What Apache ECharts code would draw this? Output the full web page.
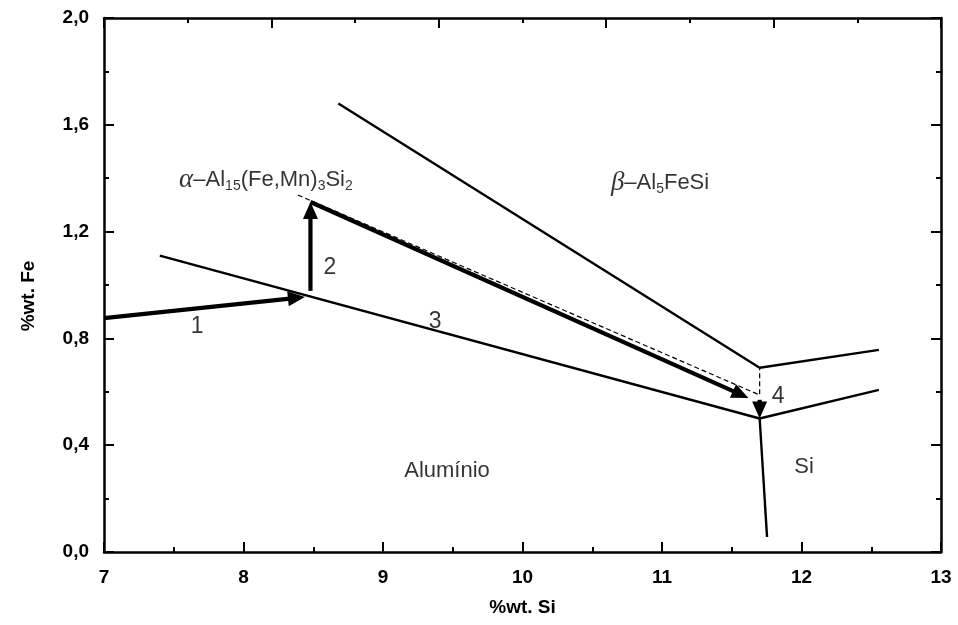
<!DOCTYPE html>
<html>
<head>
<meta charset="utf-8">
<title>Diagrama Al-Si-Fe</title>
<script src="https://cdn.jsdelivr.net/npm/echarts@6/dist/echarts.min.js"></script>
<style>
  html, body { margin: 0; padding: 0; background: #fff; }
  #chart { width: 958px; height: 625px; }
</style>
</head>
<body>
<div id="chart"></div>
<script>
// Tick values and their printed labels (comma decimal)
const xTickValues = [7, 8, 9, 10, 11, 12, 13];
const xTickLabels = ['7', '8', '9', '10', '11', '12', '13'];
const yTickValues = [0, 0.4, 0.8, 1.2, 1.6, 2.0];
const yTickLabels = ['0,0', '0,4', '0,8', '1,2', '1,6', '2,0'];

// Phase boundaries  [%Si, %Fe]
const alphaLowerBoundary = [[7.40, 1.11], [11.70, 0.50]];
const betaBoundary = [[8.68, 1.68], [11.70, 0.69]];
const betaSiBoundary = [[11.70, 0.69], [12.555, 0.757]];
const alphaSiBoundary = [[11.70, 0.50], [12.555, 0.607]];
const aluminiumSiBoundary = [[11.70, 0.50], [11.753, 0.056]];
const dashedPath = [[8.39, 1.337], [11.70, 0.588], [11.70, 0.69]];

// Solidification path arrows  [x0, y0, x1, y1]
const pathArrows = [
  [7.00, 0.876, 8.44, 0.955],
  [8.48, 0.978, 8.48, 1.311],
  [8.48, 1.311, 11.62, 0.577],
  [11.70, 0.570, 11.70, 0.500]
];

// Text labels placed in data space
const stepLabels = ['1', '2', '3', '4'];
const stepLabelPos = [[7.667, 0.843], [8.620, 1.064], [9.373, 0.861], [11.832, 0.581]];
const regionLabels = [
  '{g|\u03B1}{m|\u2013Al}{s|15}{m|(Fe,Mn)}{s|3}{m|Si}{s|2}',
  '{g|\u03B2}{m|\u2013Al}{s|5}{m|FeSi}',
  '{m|Alum\u00EDnio}',
  '{m|Si}'
];
const regionLabelPos = [[8.161, 1.393], [10.986, 1.382], [9.459, 0.303], [12.018, 0.318]];

const FONT = 'Liberation Sans';
const richStyles = {
  m: { fontFamily: FONT, fontSize: 22, lineHeight: 26, color: '#000' },
  s: { fontFamily: FONT, fontSize: 14, lineHeight: 14, color: '#000', verticalAlign: 'bottom' },
  g: { fontFamily: 'Liberation Serif', fontStyle: 'italic', fontSize: 27, lineHeight: 26, color: '#000' }
};

const chart = echarts.init(document.getElementById('chart'), null, { renderer: 'canvas' });

function boundarySeries(points, dashed) {
  return {
    type: 'line',
    data: points,
    showSymbol: false,
    symbol: 'none',
    silent: true,
    animation: false,
    lineStyle: dashed
      ? { color: '#000', width: 1.2, type: [5, 3] }
      : { color: '#000', width: 2.4 },
    z: 3
  };
}

const axisCommon = {
  axisLine: { show: true, onZero: false, lineStyle: { color: '#000', width: 2.5 } },
  axisTick: { show: true, inside: true, length: 10, lineStyle: { color: '#000', width: 2 } },
  minorTick: { show: true, splitNumber: 2, length: 5, lineStyle: { color: '#000', width: 2 } },
  splitLine: { show: false },
  minorSplitLine: { show: false }
};

const tickFont = { fontFamily: FONT, fontSize: 19, fontWeight: 'bold', color: '#000' };
const nameFont = { fontFamily: FONT, fontSize: 19, fontWeight: 'bold', color: '#000' };

const option = {
  backgroundColor: '#fff',
  animation: false,
  grid: { left: 104, right: 17, top: 18, bottom: 73, containLabel: false, outerBoundsMode: 'none' },
  xAxis: [
    Object.assign({}, axisCommon, {
      type: 'value', position: 'bottom', min: 7, max: 13, interval: 1,
      name: '%wt. Si', nameLocation: 'middle', nameGap: 46,
      nameTextStyle: nameFont,
      axisLabel: Object.assign({ margin: 16 }, tickFont, {
        formatter: v => { const i = xTickValues.indexOf(Math.round(v)); return i >= 0 ? xTickLabels[i] : ''; }
      })
    }),
    Object.assign({}, axisCommon, {
      type: 'value', position: 'top', min: 0, max: 5, interval: 1,
      axisLabel: { show: false }
    })
  ],
  yAxis: [
    Object.assign({}, axisCommon, {
      type: 'value', position: 'left', min: 0, max: 2, interval: 0.4,
      name: '%wt. Fe', nameLocation: 'middle', nameGap: 66, nameRotate: 90,
      nameTextStyle: Object.assign({ padding: [0, 22, 0, 0] }, nameFont),
      axisLabel: Object.assign({ margin: 15 }, tickFont, {
        formatter: v => {
          const i = yTickValues.findIndex(t => Math.abs(t - v) < 1e-6);
          return i >= 0 ? yTickLabels[i] : '';
        }
      })
    }),
    Object.assign({}, axisCommon, {
      type: 'value', position: 'right', min: 0, max: 2, interval: 0.4,
      axisLabel: { show: false }
    })
  ],
  series: [
    boundarySeries(alphaLowerBoundary, false),
    boundarySeries(betaBoundary, false),
    boundarySeries(betaSiBoundary, false),
    boundarySeries(alphaSiBoundary, false),
    boundarySeries(aluminiumSiBoundary, false),
    boundarySeries(dashedPath, true),
    {
      type: 'custom',
      data: pathArrows,
      encode: { x: [0, 2], y: [1, 3] },
      clip: false,
      silent: true,
      z: 4,
      renderItem: function (params, api) {
        const p1 = api.coord([api.value(0), api.value(1)]);
        const p2 = api.coord([api.value(2), api.value(3)]);
        const dx = p2[0] - p1[0], dy = p2[1] - p1[1];
        const len = Math.hypot(dx, dy);
        const ux = dx / len, uy = dy / len;
        const headLen = 17, headHalf = 7.5;
        const base = [p2[0] - ux * headLen, p2[1] - uy * headLen];
        const left = [base[0] - uy * headHalf, base[1] + ux * headHalf];
        const right = [base[0] + uy * headHalf, base[1] - ux * headHalf];
        return {
          type: 'group',
          children: [
            {
              type: 'line',
              shape: { x1: p1[0], y1: p1[1], x2: base[0] + ux * 2, y2: base[1] + uy * 2 },
              style: { stroke: '#000', lineWidth: 4.2 }
            },
            {
              type: 'polygon',
              shape: { points: [p2, left, right] },
              style: { fill: '#000' }
            }
          ]
        };
      }
    },
    {
      type: 'scatter',
      silent: true,
      z: 5,
      symbolSize: 1,
      itemStyle: { color: 'transparent' },
      data: stepLabels.map((t, i) => ({
        value: stepLabelPos[i],
        label: { formatter: t }
      })),
      label: {
        show: true, position: 'inside',
        fontFamily: FONT, fontSize: 23, color: '#000'
      }
    },
    {
      type: 'scatter',
      silent: true,
      z: 5,
      symbolSize: 1,
      itemStyle: { color: 'transparent' },
      data: regionLabels.map((t, i) => ({
        value: regionLabelPos[i],
        label: { formatter: t }
      })),
      label: {
        show: true, position: 'inside',
        fontFamily: FONT, fontSize: 22, color: '#000',
        rich: richStyles
      }
    }
  ]
};

chart.setOption(option);
</script>
</body>
</html>
